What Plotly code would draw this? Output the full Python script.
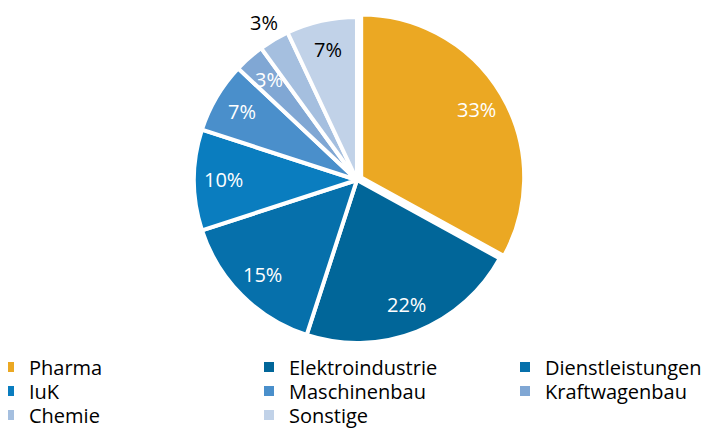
import math
import plotly.graph_objects as go

labels = ["Pharma", "Elektroindustrie", "Dienstleistungen", "IuK", "Maschinenbau",
          "Kraftwagenbau", "Chemie", "Sonstige"]
values = [33, 22, 15, 10, 7, 3, 3, 7]
colors = ["#EBA823", "#016699", "#0670AB", "#0A7DBF", "#4A8FCB",
          "#80A7D4", "#A5BFDF", "#C1D2E8"]
text_colors = ["white", "white", "white", "white", "white", "white", "black", "black"]
pulls = [0.03, 0, 0, 0, 0, 0, 0, 0]
label_outside = [False, False, False, False, False, False, True, False]

FONT = "Open Sans, Noto Sans, sans-serif"
# page body has an 8px margin, so the figure is sized to fill the rest of the window
W, H = 704, 422
DOM_X = [0.1957, 0.7957]
DOM_Y = [0.1946, 0.9903]

fig = go.Figure()
fig.add_trace(go.Pie(
    labels=labels, values=values, sort=False, direction="clockwise", rotation=0,
    marker=dict(colors=colors, line=dict(color="white", width=4)),
    pull=pulls, textinfo="none",
    domain=dict(x=DOM_X, y=DOM_Y),
    showlegend=False, hoverinfo="label+percent",
))

# percentage labels placed along each slice's mid angle
total = sum(values)
cx = sum(DOM_X) / 2
cy = sum(DOM_Y) / 2
r_px = min(W * (DOM_X[1] - DOM_X[0]), H * (DOM_Y[1] - DOM_Y[0])) / (2 * (1 + max(pulls)))
cum = 0
for v, tc, out, p in zip(values, text_colors, label_outside, pulls):
    mid = (cum + v / 2) / total * 2 * math.pi
    cum += v
    k = (1.12 if out else 0.82) + p
    fig.add_annotation(
        x=cx + k * r_px * math.sin(mid) / W,
        y=cy + k * r_px * math.cos(mid) / H,
        xref="paper", yref="paper", showarrow=False,
        text=f"{round(v / total * 100)}%",
        font=dict(family=FONT, size=20, color=tc),
        xanchor="center", yanchor="middle",
    )

# legend: 3 columns x 3 rows, one legend box per entry
col_left = [-4, 256, 512]
row_center = [359, 383, 407]
for i, (lab, col) in enumerate(zip(labels, colors)):
    name = "legend" if i == 0 else f"legend{i + 1}"
    fig.add_trace(go.Scatter(
        x=[None], y=[None], mode="markers", name=lab,
        marker=dict(symbol="square", size=10, color=col),
        legend=name, showlegend=True, hoverinfo="skip",
    ))
    rr, cc = divmod(i, 3)
    fig.update_layout({name: dict(
        x=col_left[cc] / W, xanchor="left", orientation="v",
        y=1 - row_center[rr] / H, yanchor="middle",
        font=dict(family=FONT, size=20, color="black"),
        bgcolor="rgba(0,0,0,0)", itemwidth=30, indentation=-15,
    )})

fig.update_layout(
    width=W, height=H,
    margin=dict(l=0, r=0, t=0, b=0, autoexpand=False),
    paper_bgcolor="white", plot_bgcolor="white",
    font=dict(family=FONT, color="black"),
    xaxis=dict(visible=False, domain=[0, 0.01]),
    yaxis=dict(visible=False, domain=[0, 0.01]),
)

fig.write_html("out.html")
